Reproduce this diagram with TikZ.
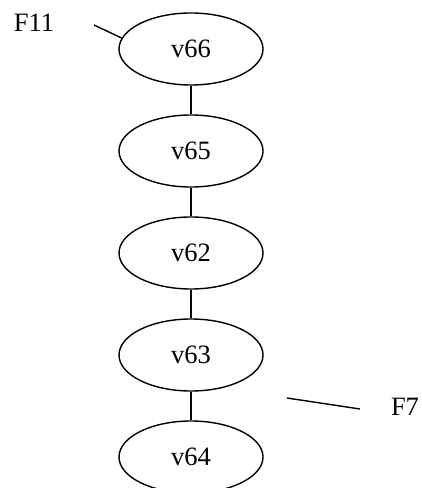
\documentclass[tikz,border=0pt]{standalone}
\usepackage{fontspec}
\setmainfont{Liberation Serif}
\usetikzlibrary{shapes.geometric}
\begin{document}
\begin{tikzpicture}[x=1bp,y=-1bp,
  vertex/.style={ellipse,draw,line width=1.4bp,minimum width=144bp,minimum height=72bp,inner sep=0pt,font=\fontsize{26.5bp}{31bp}\selectfont},
  lbl/.style={anchor=base,inner sep=0pt,font=\fontsize{26.5bp}{31bp}\selectfont},
  edge/.style={line width=1.4bp}]
\useasboundingbox (0,0) rectangle (421,488);
\node[vertex] (v66) at (191,49) {v66};
\node[vertex] (v65) at (191,151) {v65};
\node[vertex] (v62) at (191,253) {v62};
\node[vertex] (v63) at (191,355) {v63};
\node[vertex] (v64) at (191,457) {v64};
\node[lbl] (f11) at (34,32) {F11};
\node[lbl] (f7) at (405,415) {F7};
\coordinate (f11e) at (94,25);
\coordinate (f7a) at (287,398);
\coordinate (f7b) at (360,409);
\draw[edge] (v66) -- (v65);
\draw[edge] (v65) -- (v62);
\draw[edge] (v62) -- (v63);
\draw[edge] (v63) -- (v64);
\draw[edge] (f11e) -- (v66.171);
\draw[edge] (f7a) -- (f7b);
\end{tikzpicture}
\end{document}
